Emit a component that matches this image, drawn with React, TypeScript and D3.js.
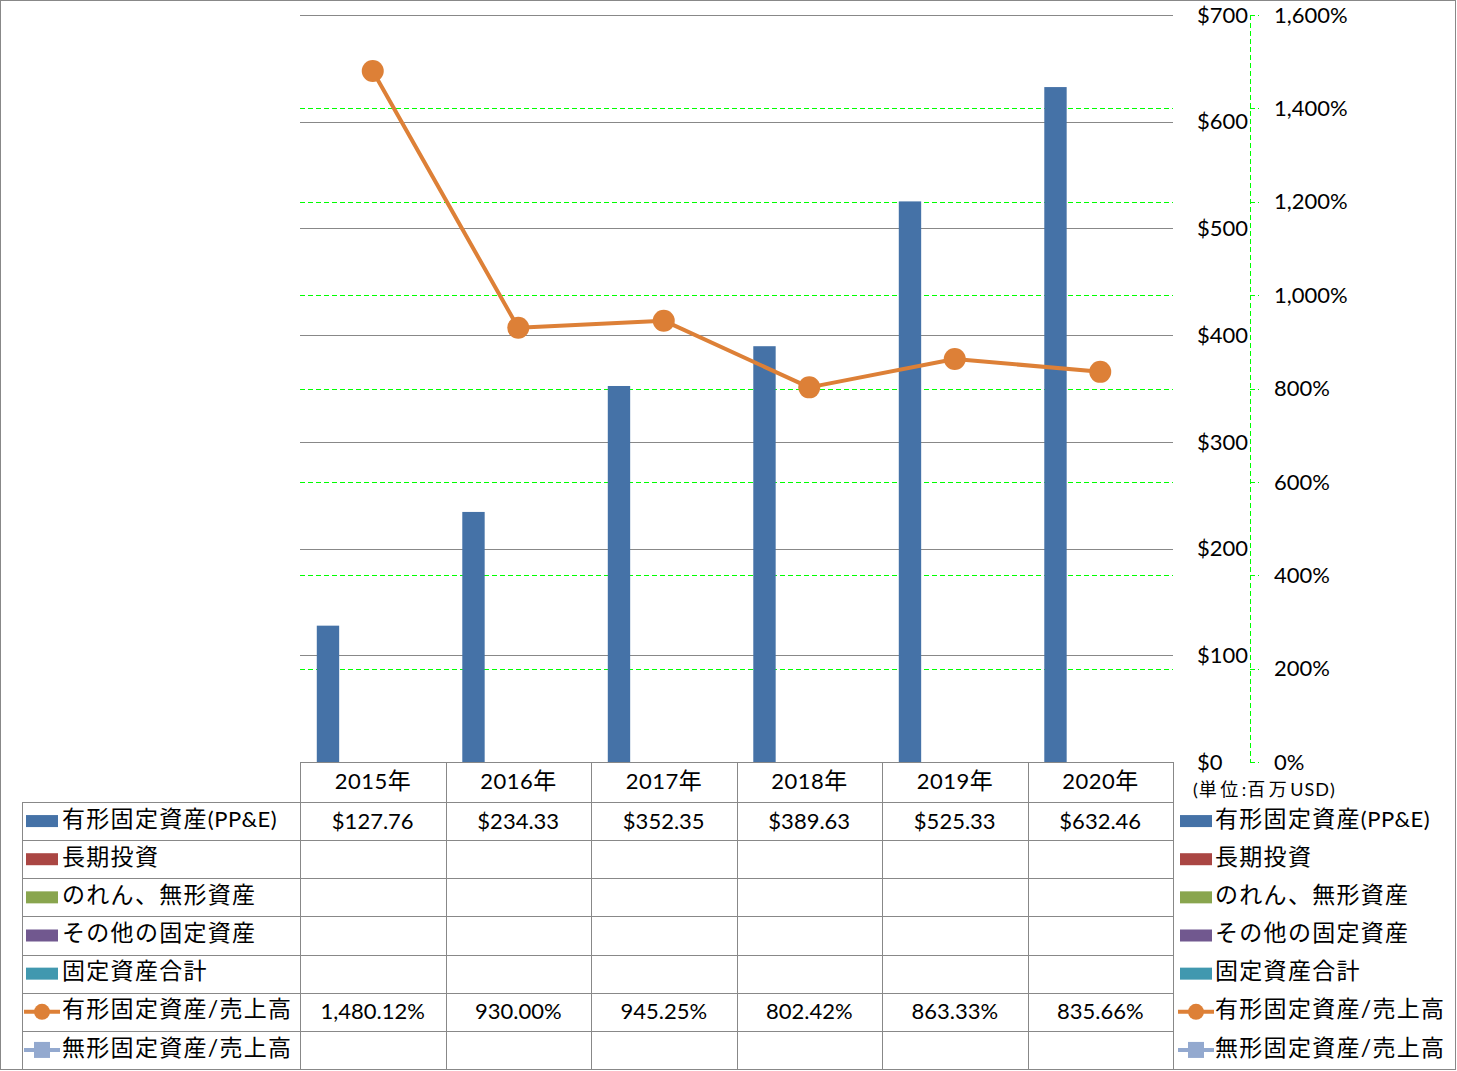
import React from "react";
import * as d3 from "d3";

const years = ["2015年", "2016年", "2017年", "2018年", "2019年", "2020年"];
const ppe = [127.76, 234.33, 352.35, 389.63, 525.33, 632.46];
const ppeRatio = [1480.12, 930.0, 945.25, 802.42, 863.33, 835.66];
const barSeries = ["有形固定資産(PP&E)", "長期投資", "のれん、無形資産", "その他の固定資産", "固定資産合計"];
const lineSeries = ["有形固定資産/売上高", "無形固定資産/売上高"];
const leftTicks = [0, 100, 200, 300, 400, 500, 600, 700];
const rightTicks = [0, 200, 400, 600, 800, 1000, 1200, 1400, 1600];
const unitLabel = "(単位:百万USD)";

const W = 1457, H = 1071;
const L = 300, R = 1173, T = 15, B = 762;
const FONT = "Lato, 'Noto Sans CJK JP', sans-serif";
const BAR = "#4572A7";
const ORANGE = "#DD8037";
const keyColors = ["#4572A7", "#AA4643", "#89A54E", "#71588F", "#4198AF", ORANGE, "#93A9CF"];

const isCJK = (ch: string) => /[\u3000-\u9fff\uff00-\uffef]/.test(ch);

function runs(s: string): { t: string; cjk: boolean }[] {
  const out: { t: string; cjk: boolean }[] = [];
  for (const ch of s) {
    const c = isCJK(ch) || ch === "/";
    if (out.length && out[out.length - 1].cjk === c) out[out.length - 1].t += ch;
    else out.push({ t: ch, cjk: c });
  }
  return out;
}

function Mixed(props: { s: string; x: number; y: number; cjkSize?: number; cjkSpacing?: number; latSize?: number; latSpacing?: number; anchor?: string }) {
  const { s, x, y, cjkSize = 23, cjkSpacing = 1.3, latSize = 22, latSpacing = 0.5, anchor = "start" } = props;
  return (
    <text x={x} y={y} dy="0.35em" fill="#000" textAnchor={anchor as any}>
      {runs(s).map((r, i) => (
        <tspan key={i} fontSize={r.cjk ? cjkSize : latSize} letterSpacing={r.cjk ? cjkSpacing : latSpacing}>
          {r.t}
        </tspan>
      ))}
    </text>
  );
}

export default function App() {
  const x = d3.scaleBand<string>().domain(years).range([L, R]).padding(0);
  const sub = d3.scaleBand<string>().domain(barSeries).range([0, x.bandwidth()]).paddingInner(0).paddingOuter(0.75);
  const y = d3.scaleLinear().domain([0, 700]).range([B, T]);
  const y2 = d3.scaleLinear().domain([0, 1600]).range([B, T]);
  const line = d3.line<number>().x((_, i) => x(years[i])! + x.bandwidth() / 2).y((d) => y2(d));

  const headerBottom = 802;
  const rowH = (1069 - 802) / 7;
  const allRows = [...barSeries, ...lineSeries];
  const tableLeft = 22;

  const rowText = (i: number): string[] => {
    if (i === 0) return ppe.map((v) => "$" + d3.format(".2f")(v));
    if (i === 5) return ppeRatio.map((v) => d3.format(",.2f")(v) + "%");
    return years.map(() => "");
  };

  const key = (i: number, kx: number, cy: number) => {
    const c = keyColors[i];
    if (i < 5) return <rect x={kx} y={cy - 6} width={32} height={12} fill={c} />;
    if (i === 5)
      return (
        <g>
          <line x1={kx - 2} x2={kx + 34} y1={cy} y2={cy} stroke={c} strokeWidth={4} />
          <circle cx={kx + 16} cy={cy} r={8} fill={c} />
        </g>
      );
    return (
      <g>
        <line x1={kx - 2} x2={kx + 34} y1={cy} y2={cy} stroke={c} strokeWidth={4} />
        <rect x={kx + 8} y={cy - 8} width={16} height={16} fill={c} />
      </g>
    );
  };

  return (
    <div style={{ position: "absolute", left: 0, top: 0 }}>
      <svg width={W} height={H} style={{ display: "block", fontFamily: FONT }}>
        <rect x={0} y={0} width={W} height={H} fill="#fff" />
        <rect x={0.5} y={0.5} width={W - 2} height={H - 2} fill="none" stroke="#888" />
        {leftTicks.map((t) => (
          <line key={"g" + t} x1={L} x2={R} y1={Math.round(y(t)) + 0.5} y2={Math.round(y(t)) + 0.5} stroke="#888" strokeWidth={1} />
        ))}
        {rightTicks.slice(1, -1).map((t) => (
          <line key={"s" + t} x1={L} x2={R} y1={Math.round(y2(t)) + 0.5} y2={Math.round(y2(t)) + 0.5} stroke="#00FF00" strokeDasharray="5,3" strokeWidth={1} />
        ))}
        {ppe.map((v, i) => (
          <rect key={"b" + i} x={x(years[i])! + sub(barSeries[0])!} y={y(v)} width={sub.bandwidth()} height={B - y(v)} fill={BAR} />
        ))}
        <path d={line(ppeRatio)!} fill="none" stroke={ORANGE} strokeWidth={4} strokeLinejoin="round" />
        {ppeRatio.map((v, i) => (
          <circle key={"c" + i} cx={x(years[i])! + x.bandwidth() / 2} cy={y2(v)} r={11} fill={ORANGE} />
        ))}
        {leftTicks.map((t) => (
          <text key={"l" + t} x={1197} y={y(t)} dy="0.35em" fontSize={22} fill="#000">
            {"$" + t}
          </text>
        ))}
        <line x1={1250.5} x2={1250.5} y1={T} y2={B} stroke="#00FF00" strokeDasharray="5,3" />
        {rightTicks.map((t) => (
          <g key={"r" + t}>
            <line x1={1250} x2={1259} y1={Math.round(y2(t)) + 0.5} y2={Math.round(y2(t)) + 0.5} stroke="#00FF00" strokeDasharray="5,3" />
            <text x={1274} y={y2(t)} dy="0.35em" fontSize={22} fill="#000">
              {d3.format(",")(t) + "%"}
            </text>
          </g>
        ))}
        <Mixed s={unitLabel} x={1193} y={790} cjkSize={18} cjkSpacing={3.5} latSize={18} latSpacing={1} />
        <g stroke="#888" strokeWidth={1} fill="none">
          <line x1={L} x2={R} y1={B + 0.5} y2={B + 0.5} />
          <line x1={tableLeft} x2={R} y1={headerBottom + 0.5} y2={headerBottom + 0.5} />
          {allRows.map((_, i) => (
            <line key={"h" + i} x1={tableLeft} x2={R} y1={Math.round(headerBottom + rowH * (i + 1)) + 0.5} y2={Math.round(headerBottom + rowH * (i + 1)) + 0.5} />
          ))}
          <line x1={tableLeft + 0.5} x2={tableLeft + 0.5} y1={headerBottom} y2={1069} />
          {years.map((yr) => (
            <line key={"v" + yr} x1={Math.round(x(yr)!) + 0.5} x2={Math.round(x(yr)!) + 0.5} y1={B} y2={1069} />
          ))}
          <line x1={R + 0.5} x2={R + 0.5} y1={B} y2={1069} />
        </g>
        {years.map((yr) => (
          <Mixed key={"y" + yr} s={yr} x={x(yr)! + x.bandwidth() / 2} y={(B + headerBottom) / 2 + 1} anchor="middle" cjkSpacing={0} />
        ))}
        {allRows.map((name, i) => {
          const cy = headerBottom + rowH * (i + 0.5);
          return (
            <g key={"row" + i}>
              {key(i, 26, cy)}
              <Mixed s={name} x={62} y={cy} />
              {rowText(i).map((s, j) => (
                <text key={j} x={x(years[j])! + x.bandwidth() / 2} y={cy} dy="0.35em" textAnchor="middle" fontSize={22} fill="#000">
                  {s}
                </text>
              ))}
              {key(i, 1180, cy)}
              <Mixed s={name} x={1215} y={cy} />
            </g>
          );
        })}
      </svg>
    </div>
  );
}
